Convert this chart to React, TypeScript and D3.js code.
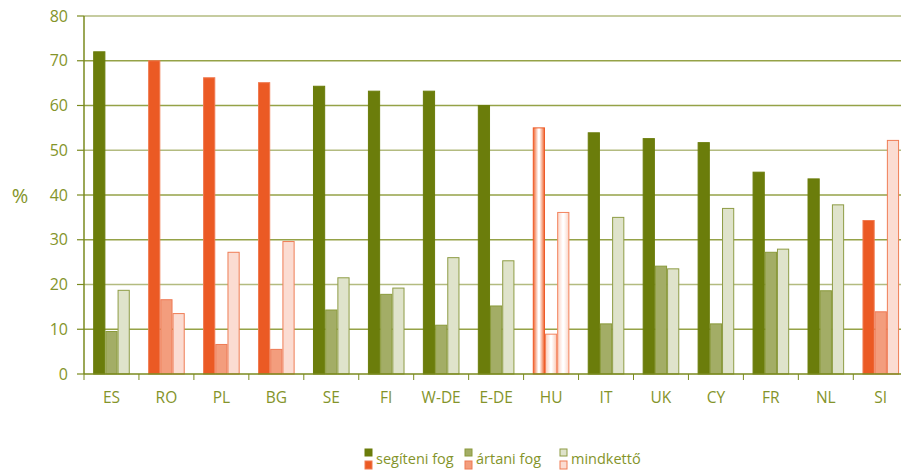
import React from "react";
import * as d3 from "d3";

const categories = ["ES", "RO", "PL", "BG", "SE", "FI", "W-DE", "E-DE", "HU", "IT", "UK", "CY", "FR", "NL", "SI"];
const segiteni = [72.0, 70.0, 66.2, 65.1, 64.3, 63.2, 63.2, 60.0, 55.0, 53.9, 52.6, 51.7, 45.1, 43.6, 34.3];
const artani = [9.5, 16.6, 6.6, 5.5, 14.3, 17.8, 10.9, 15.2, 8.9, 11.2, 24.1, 11.2, 27.2, 18.6, 13.9];
const mindketto = [18.7, 13.5, 27.2, 29.6, 21.5, 19.2, 26.0, 25.3, 36.1, 35.0, 23.5, 37.0, 27.9, 37.8, 52.2];
const redCountries = ["RO", "PL", "BG", "SI"];
const hatchedCountries = ["HU"];
const yTicks = [0, 10, 20, 30, 40, 50, 60, 70, 80];
const legendLabels = ["segíteni fog", "ártani fog", "mindkettő"];

const green = { fill: ["#6b7d0b", "#a3ad66", "#dfe3cb"], stroke: ["#6b7d0b", "#8a9a3a", "#8e9c45"] };
const red = { fill: ["#eb5a24", "#f39d7d", "#fbdcd2"], stroke: ["#f07a50", "#ee7a55", "#ef7d55"] };
const hatchEdge = ["#f0652f", "#fbc9b6", "#fbd3c4"];
const hatchStroke = ["#ee5a26", "#f3845e", "#f3845e"];

export default function App() {
  const W = 901, H = 472;
  const left = 84, right = 908.25, top = 16, bottom = 374;
  const x0 = d3.scaleBand<string>().domain(categories).range([left, right]).paddingInner(0.334).paddingOuter(0.167);
  const x1 = d3.scaleBand<number>().domain([0, 1, 2]).range([0, x0.bandwidth()]);
  const y = d3.scaleLinear().domain([0, 80]).range([bottom, top]);
  const axisColor = "#7a8a1e";
  const textColor = "#84942a";
  const font = "'Open Sans', 'Noto Sans', sans-serif";
  const series = [segiteni, artani, mindketto];
  const step = x0.step();

  return (
    <svg width={W} height={H} style={{ position: "absolute", left: 0, top: 0 }} fontFamily={font}>
      <defs>
        {[0, 1, 2].map((k) => (
          <linearGradient key={k} id={`hg${k}`} x1="0" x2="1" y1="0" y2="0">
            <stop offset="0" stopColor={hatchEdge[k]} />
            <stop offset="0.45" stopColor="#ffffff" />
            <stop offset="0.55" stopColor="#ffffff" />
            <stop offset="1" stopColor={hatchEdge[k]} />
          </linearGradient>
        ))}
      </defs>
      {yTicks.slice(1).map((t, i) => (
        <line key={t} x1={left} x2={right} y1={y(t)} y2={y(t)} stroke={i % 3 === 1 ? "#b3bb80" : "#95a247"} strokeWidth={1.5} />
      ))}
      {categories.map((c, ci) => {
        const isRed = redCountries.includes(c);
        const isHatch = hatchedCountries.includes(c);
        const pal = isRed || isHatch ? red : green;
        return (
          <g key={c} transform={`translate(${x0(c)},0)`}>
            {series.map((s, k) => {
              const v = s[ci];
              const bx = x1(k)!;
              const bw = x1.bandwidth();
              return (
                <rect
                  key={k}
                  x={bx + 0.5}
                  y={y(v)}
                  width={bw - 1}
                  height={bottom - y(v)}
                  fill={isHatch ? `url(#hg${k})` : pal.fill[k]}
                  stroke={isHatch ? hatchStroke[k] : pal.stroke[k]}
                  strokeWidth={1}
                />
              );
            })}
          </g>
        );
      })}
      <line x1={left} x2={left} y1={top} y2={bottom} stroke={axisColor} strokeWidth={1.5} />
      <line x1={left} x2={right} y1={bottom} y2={bottom} stroke={axisColor} strokeWidth={1.5} />
      {yTicks.map((t) => (
        <g key={t}>
          <line x1={77} x2={left} y1={y(t)} y2={y(t)} stroke={axisColor} strokeWidth={1.2} />
          <text x={68} y={y(t)} dy="0.35em" textAnchor="end" fontSize={16} fill={textColor}>{t}</text>
        </g>
      ))}
      {d3.range(categories.length + 1).map((i) => (
        <line key={i} x1={left + i * step} x2={left + i * step} y1={bottom} y2={bottom + 6} stroke={axisColor} strokeWidth={1} />
      ))}
      {categories.map((c) => (
        <text key={c} x={x0(c)! + x0.bandwidth() / 2} y={398} dy="0.35em" textAnchor="middle" fontSize={15.5} fill={textColor}>{c}</text>
      ))}
      <text x={20} y={196} dy="0.35em" textAnchor="middle" fontSize={20} fill={textColor}>%</text>
      {legendLabels.map((l, k) => {
        const lx = [365, 465, 560][k];
        return (
          <g key={l}>
            <rect x={lx} y={449} width={7} height={7} fill={green.fill[k]} stroke={green.stroke[k]} strokeWidth={1} />
            <rect x={lx} y={461} width={7} height={8} fill={red.fill[k]} stroke={red.stroke[k]} strokeWidth={1} />
            <text x={lx + 11} y={459} dy="0.35em" fontSize={14.5} fill={textColor}>{l}</text>
          </g>
        );
      })}
    </svg>
  );
}
